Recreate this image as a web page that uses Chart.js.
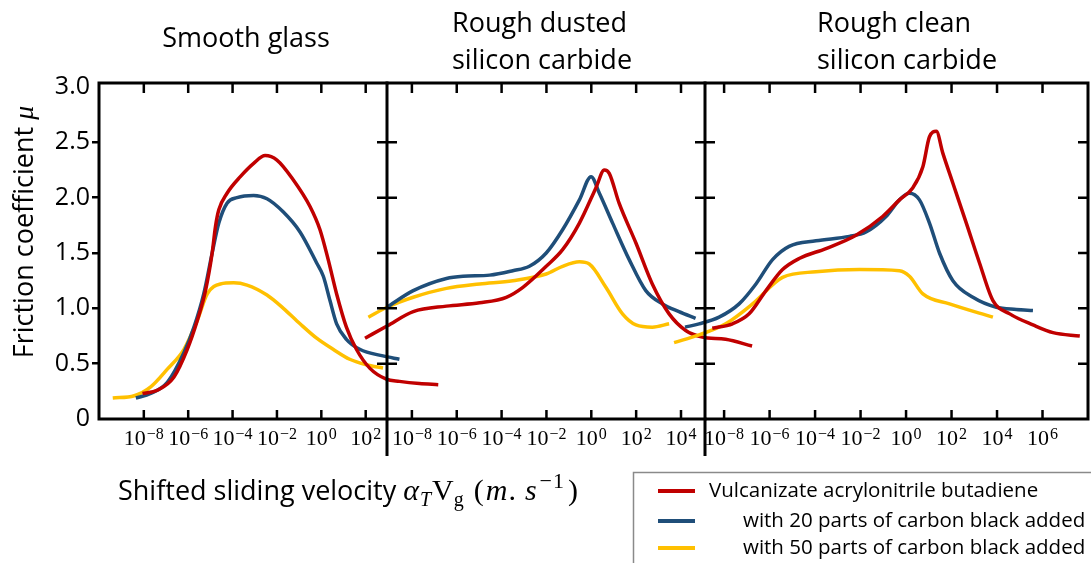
<!DOCTYPE html>
<html>
<head>
<meta charset="utf-8">
<script src="https://cdn.jsdelivr.net/npm/chart.js@4.4.1/dist/chart.umd.min.js"></script>
<style>
html,body{margin:0;padding:0;background:#fff;}
#wrap{position:relative;width:1091px;height:563px;overflow:hidden;background:#fff;}
#wrap canvas{position:absolute;left:0;top:0;}
</style>
</head>
<body>
<div id="wrap">
<canvas id="c0" width="1091" height="563"></canvas>
<canvas id="c1" width="1091" height="563"></canvas>
<canvas id="c2" width="1091" height="563"></canvas>
</div>
<script>
// ---------- categories / labels ----------
const seriesNames = [
  'Vulcanizate acrylonitrile butadiene',
  'with 20 parts of carbon black added',
  'with 50 parts of carbon black added'
];
const seriesColors = ['#C00000', '#1F4E79', '#FFC000'];
const panelTitles = [['Smooth glass'], ['Rough dusted', 'silicon carbide'], ['Rough clean', 'silicon carbide']];
const yTicks = [0, 0.5, 1.0, 1.5, 2.0, 2.5, 3.0];
// x tick exponents (labels 10^n) for each panel
const glassTickExps  = [-8, -6, -4, -2, 0, 2];
const dustedTickExps = [-8, -6, -4, -2, 0, 2, 4];
const cleanTickExps  = [-8, -6, -4, -2, 0, 2, 4, 6];
// visible log10(velocity) range of each panel
const glassRange  = [-10.02, 2.96];
const dustedRange = [-9.11, 5.07];
const cleanRange  = [-8.84, 8.0];
const yMax = 3.036;

// ---------- series: log10 shifted sliding velocity & friction coefficient ----------
// Smooth glass
const glassRedLogV = [-8.06,-7.39,-6.64,-6.04,-5.59,-5.22,-4.92,-4.77,-4.62,-4.25,-3.65,-3.05,-2.53,-2.00,-1.26,-0.51,-0.06,0.31,0.69,1.13,1.58,2.18,2.93,3.52,4.42,5.27];
const glassRedMu   = [0.23,0.26,0.38,0.63,0.89,1.16,1.50,1.74,1.89,2.04,2.19,2.31,2.38,2.34,2.16,1.92,1.71,1.44,1.13,0.83,0.63,0.46,0.36,0.34,0.32,0.31];
const glassBlueLogV = [-8.36,-7.69,-6.94,-6.19,-5.74,-5.30,-4.92,-4.62,-4.25,-3.80,-3.05,-2.45,-1.71,-0.96,-0.21,0.09,0.39,0.69,1.13,1.73,2.78,3.52];
const glassBlueMu   = [0.19,0.23,0.33,0.60,0.83,1.13,1.50,1.77,1.95,2.00,2.02,1.99,1.87,1.69,1.41,1.29,1.07,0.86,0.72,0.63,0.57,0.54];
const glassYellowLogV = [-9.40,-8.43,-7.69,-6.94,-6.19,-5.59,-5.14,-4.55,-3.95,-3.35,-2.45,-1.71,-0.96,-0.21,0.53,1.28,2.03,2.78];
const glassYellowMu   = [0.19,0.21,0.29,0.45,0.63,0.89,1.13,1.22,1.23,1.21,1.12,1.00,0.86,0.73,0.63,0.54,0.49,0.46];
// Rough dusted silicon carbide
const dustedRedLogV = [-10.09,-9.11,-7.94,-6.46,-4.98,-3.79,-3.05,-2.01,-1.28,-0.53,0.21,0.58,0.80,1.24,1.99,2.72,3.47,4.21,4.95,5.99,7.17];
const dustedRedMu   = [0.73,0.84,0.97,1.02,1.05,1.10,1.19,1.38,1.53,1.77,2.09,2.25,2.22,1.95,1.59,1.22,0.95,0.80,0.74,0.72,0.66];
const dustedBlueLogV = [-9.12,-7.94,-6.46,-5.72,-4.53,-3.50,-2.76,-2.01,-1.28,-0.53,-0.01,0.36,0.95,1.69,2.43,3.17,3.91,4.65];
const dustedBlueMu   = [1.01,1.16,1.27,1.29,1.30,1.34,1.38,1.50,1.71,1.98,2.19,2.04,1.77,1.44,1.16,1.04,0.97,0.91];
const dustedYellowLogV = [-9.94,-9.11,-7.94,-6.46,-4.98,-3.50,-2.01,-1.28,-0.53,-0.09,0.65,1.39,1.99,2.72,3.47];
const dustedYellowMu   = [0.92,1.01,1.10,1.18,1.22,1.25,1.31,1.38,1.42,1.40,1.19,0.95,0.85,0.83,0.86];
// Rough clean silicon carbide
const cleanRedLogV = [-8.52,-7.63,-6.90,-6.16,-5.43,-4.70,-3.52,-2.20,-1.03,-0.29,0.30,0.74,1.03,1.33,1.62,2.06,2.65,3.23,3.82,4.56,5.58,6.46,7.64];
const cleanRedMu   = [0.82,0.86,0.95,1.16,1.35,1.45,1.54,1.66,1.83,1.98,2.09,2.28,2.55,2.60,2.40,2.13,1.77,1.41,1.07,0.95,0.85,0.78,0.75];
const cleanBlueLogV = [-9.72,-9.10,-8.22,-7.34,-6.60,-5.87,-5.14,-3.96,-2.49,-1.76,-0.88,-0.29,0.15,0.59,1.03,1.47,2.06,2.94,3.97,4.85,5.58];
const cleanBlueMu   = [0.83,0.86,0.92,1.04,1.22,1.44,1.56,1.61,1.65,1.69,1.83,1.98,2.04,1.98,1.77,1.50,1.25,1.10,1.01,0.99,0.98];
const cleanYellowLogV = [-10.20,-9.10,-7.93,-6.75,-5.43,-3.96,-2.05,-0.29,0.15,0.74,1.91,3.82];
const cleanYellowMu   = [0.69,0.76,0.86,1.04,1.28,1.33,1.35,1.34,1.29,1.13,1.04,0.92];

// ---------- layout (pixels) ----------
const W = 1091, H = 563;
const frameTop = 83, frameBottom = 419;
const panelEdges = [99, 387, 705, 1088];
const titlePos = [
  {x: 246, align: 'center', lines: [47]},
  {x: 452, align: 'left', lines: [32, 69]},
  {x: 817, align: 'left', lines: [32, 69]}
];

const panels = [
  {ticks: glassTickExps, range: glassRange, series: [[glassRedLogV, glassRedMu], [glassBlueLogV, glassBlueMu], [glassYellowLogV, glassYellowMu]]},
  {ticks: dustedTickExps, range: dustedRange, series: [[dustedRedLogV, dustedRedMu], [dustedBlueLogV, dustedBlueMu], [dustedYellowLogV, dustedYellowMu]]},
  {ticks: cleanTickExps, range: cleanRange, series: [[cleanRedLogV, cleanRedMu], [cleanBlueLogV, cleanBlueMu], [cleanYellowLogV, cleanYellowMu]]}
];

const SANS = '"Open Sans", "Noto Sans", sans-serif';
const SERIF = '"Liberation Serif", "DejaVu Serif", serif';

function panelDecor(i) {
  return {
    id: 'decor' + i,
    afterDraw(chart) {
      const ctx = chart.ctx, xs = chart.scales.x, ys = chart.scales.y;
      const {left, right, top, bottom} = chart.chartArea;
      ctx.save();
      ctx.strokeStyle = '#000';
      ctx.lineWidth = 3;
      ctx.beginPath();
      ctx.moveTo(left - 1.5, top); ctx.lineTo(right + 1.5, top);
      ctx.moveTo(left - 1.5, bottom); ctx.lineTo(right + 1.5, bottom);
      if (i === 0) { ctx.moveTo(left, top - 1.5); ctx.lineTo(left, bottom + 1.5); }
      else { ctx.moveTo(left, top - 1.5); ctx.lineTo(left, bottom + 37); }
      if (i === 2) { ctx.moveTo(right, top - 1.5); ctx.lineTo(right, bottom + 1.5); }
      ctx.stroke();
      ctx.lineWidth = 2.5;
      ctx.beginPath();
      yTicks.forEach(v => {
        if (v <= 0 || v >= 3) return;
        const py = ys.getPixelForValue(v);
        if (i > 0) { ctx.moveTo(left - 10, py); ctx.lineTo(left + 10, py); }
        if (i === 2) { ctx.moveTo(right - 10, py); ctx.lineTo(right, py); }
      });
      panels[i].ticks.forEach(e => {
        const px = xs.getPixelForValue(e);
        ctx.moveTo(px, bottom); ctx.lineTo(px, bottom - 9);
        ctx.moveTo(px, top); ctx.lineTo(px, top + 10);
      });
      ctx.stroke();
      // x tick labels 10^n
      ctx.fillStyle = '#000';
      ctx.textBaseline = 'alphabetic';
      ctx.textAlign = 'left';
      panels[i].ticks.forEach(e => {
        const px = xs.getPixelForValue(e);
        const base = '10', sup = e < 0 ? '\u2212' + (-e) : String(e);
        ctx.font = '22px ' + SERIF; const wb = ctx.measureText(base).width;
        ctx.font = '16px ' + SERIF; const wsup = ctx.measureText(sup).width;
        const x0 = px - (wb + wsup + 1) / 2;
        ctx.font = '22px ' + SERIF; ctx.fillText(base, x0, 445);
        ctx.font = '16px ' + SERIF; ctx.fillText(sup, x0 + wb + 1, 438.5);
      });
      // panel title
      ctx.font = '27px ' + SANS;
      ctx.textAlign = titlePos[i].align;
      panelTitles[i].forEach((t, k) => ctx.fillText(t, titlePos[i].x, titlePos[i].lines[k]));
      if (i === 0) drawGlobalText(ctx);
      ctx.restore();
    }
  };
}

function drawGlobalText(ctx) {
  ctx.fillStyle = '#000';
  ctx.textAlign = 'left';
  ctx.textBaseline = 'alphabetic';
  // y title
  ctx.save();
  ctx.translate(33, 232);
  ctx.rotate(-Math.PI / 2);
  ctx.font = '27px ' + SANS;
  const t1 = 'Friction coefficient ';
  const w1 = ctx.measureText(t1).width;
  ctx.font = 'italic 28px ' + SERIF;
  const w2 = ctx.measureText('\u03BC').width;
  ctx.font = '27px ' + SANS;
  ctx.fillText(t1, -(w1 + w2) / 2, 0);
  ctx.font = 'italic 28px ' + SERIF;
  ctx.fillText('\u03BC', -(w1 + w2) / 2 + w1, 0);
  ctx.restore();
  // x title: sans part then math part laid out sequentially
  const by = 500;
  ctx.font = '27px ' + SANS;
  const sansText = 'Shifted sliding velocity';
  ctx.fillText(sansText, 118, by);
  let x = Math.max(402, 118 + ctx.measureText(sansText).width + 7);
  const parts = [
    // [text, font, dy, gapBefore]
    ['\u03B1', 'italic 30px ' + SERIF, 0, 0],
    ['T', 'italic 20px ' + SERIF, 6, 1],
    ['V', '30px ' + SERIF, 0, 1],
    ['g', '20px ' + SERIF, 6, 0],
    ['(', '30px ' + SERIF, 0, 10],
    ['m', 'italic 30px ' + SERIF, 0, 2],
    ['.', '30px ' + SERIF, 0, 1],
    ['s', 'italic 30px ' + SERIF, 0, 9],
    ['\u2212', '22px ' + SERIF, -12, 3],
    ['1', '22px ' + SERIF, -12, 1],
    [')', '30px ' + SERIF, 0, 4]
  ];
  parts.forEach(p => {
    x += p[3];
    ctx.font = p[1];
    ctx.fillText(p[0], x, by + p[2]);
    x += ctx.measureText(p[0]).width;
  });
  // legend
  ctx.strokeStyle = '#8a8a8a';
  ctx.lineWidth = 1.5;
  ctx.strokeRect(633.5, 472.5, 520, 120);
  const rowY = [491, 521, 548];
  seriesNames.forEach((name, k) => {
    ctx.strokeStyle = seriesColors[k];
    ctx.lineWidth = 4;
    ctx.beginPath(); ctx.moveTo(658, rowY[k]); ctx.lineTo(695, rowY[k]); ctx.stroke();
    ctx.font = '20.5px ' + SANS;
    ctx.fillText(name, k === 0 ? 709 : 743, rowY[k] + 6);
  });
}

function makePanel(i) {
  const left = panelEdges[i], right = panelEdges[i + 1];
  const p = panels[i];
  const datasets = p.series.map((s, k) => ({
    label: seriesNames[k],
    data: s[0].map((lv, j) => ({x: lv, y: s[1][j]})),
    borderColor: seriesColors[k],
    backgroundColor: seriesColors[k],
    borderWidth: 3.5,
    pointRadius: 0,
    fill: false,
    cubicInterpolationMode: 'monotone',
    clip: false
  }));
  const yScale = {
    type: 'linear',
    min: 0, max: yMax,
    display: i === 0,
    afterBuildTicks: s => { s.ticks = yTicks.map(v => ({value: v})); },
    border: {display: false},
    grid: {
      drawOnChartArea: false, drawTicks: true, tickLength: 7, lineWidth: 2.5,
      color: c => (c.tick && (c.tick.value === 0 || c.tick.value === 3)) ? 'rgba(0,0,0,0)' : '#000'
    },
    ticks: {
      padding: 2, color: '#000',
      font: {family: 'Open Sans', size: 25},
      callback: v => v === 0 ? '0' : Number(v).toFixed(1)
    }
  };
  if (i === 0) yScale.afterFit = s => { s.width = left; };
  return new Chart(document.getElementById('c' + i), {
    type: 'line',
    data: {datasets},
    options: {
      responsive: false,
      animation: false,
      devicePixelRatio: 1,
      events: [],
      layout: {padding: {left: i === 0 ? 0 : left, right: W - right, top: frameTop, bottom: H - frameBottom}},
      plugins: {legend: {display: false}, tooltip: {enabled: false}, title: {display: false}},
      scales: {
        x: {
          type: 'linear', display: false, bounds: 'data',
          afterDataLimits: s => { s.min = p.range[0]; s.max = p.range[1]; },
          afterBuildTicks: s => { s.min = p.range[0]; s.max = p.range[1]; }
        },
        y: yScale
      }
    },
    plugins: [panelDecor(i)]
  });
}

[0, 1, 2].forEach(makePanel);
</script>
</body>
</html>
